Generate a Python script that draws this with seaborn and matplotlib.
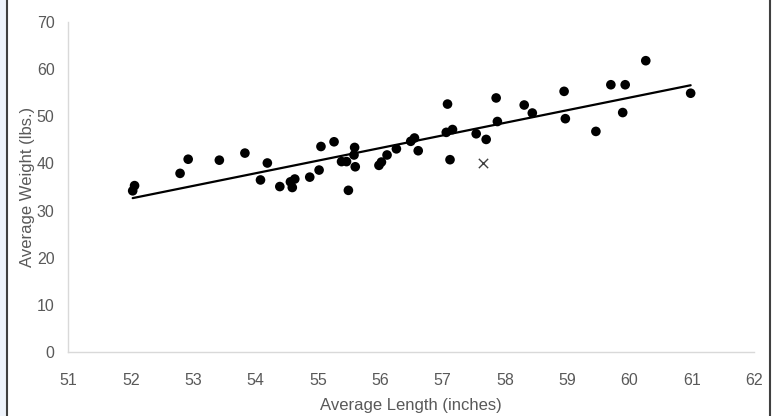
import seaborn as sns
from matplotlib import pyplot as plt
from matplotlib.patches import Rectangle
import pandas as pd

# average length (inches) and average weight (lbs.)
length = [52.06, 52.03, 52.79, 52.92, 53.42, 53.83, 54.08, 54.19, 54.39, 54.56,
          54.59, 54.63, 54.87, 55.02, 55.05, 55.26, 55.38, 55.46, 55.49, 55.58,
          55.59, 55.60, 55.98, 56.02, 56.11, 56.26, 56.49, 56.55, 56.61, 57.08,
          57.06, 57.16, 57.12, 57.54, 57.70, 57.86, 57.88, 58.31, 58.44, 58.95,
          58.97, 59.46, 59.70, 59.93, 59.89, 60.26, 60.98]
weight = [35.3, 34.2, 37.9, 40.9, 40.7, 42.2, 36.5, 40.1, 35.1, 36.1,
          34.9, 36.7, 37.1, 38.6, 43.6, 44.6, 40.4, 40.4, 34.3, 41.8,
          43.4, 39.3, 39.6, 40.3, 41.8, 43.1, 44.7, 45.4, 42.7, 52.6,
          46.6, 47.2, 40.8, 46.3, 45.1, 53.9, 48.9, 52.4, 50.7, 55.3,
          49.5, 46.8, 56.7, 56.7, 50.8, 61.8, 54.9]
outlier_length = [57.65]
outlier_weight = [40.1]

x_ticks = list(range(51, 63))
y_ticks = list(range(0, 71, 10))

sns.set_style('white')
plt.rcParams['font.family'] = ['Liberation Sans', 'DejaVu Sans']

df = pd.DataFrame({'length': length, 'weight': weight})

fig = plt.figure(figsize=(7.72, 4.16), dpi=100)
# light strip on the left and the dark frame around the chart
fig.patches.append(Rectangle((0, 0), 7 / 772, 1, transform=fig.transFigure,
                             facecolor='#eef3fb', edgecolor='none', zorder=0))
fig.patches.append(Rectangle((7 / 772, -0.01), 763 / 772, 1.02, transform=fig.transFigure,
                             facecolor='none', edgecolor='#404040', lw=1.5, zorder=5))

ax = fig.add_axes([0.0887, 0.1538, 0.8883, 0.7932])
sns.regplot(data=df, x='length', y='weight', ax=ax, scatter=False, ci=None,
            line_kws=dict(color='black', lw=1.6))
sns.scatterplot(data=df, x='length', y='weight', ax=ax, color='black', s=48,
                edgecolor='none', zorder=3)
ax.scatter(outlier_length, outlier_weight, marker='x', color='#404040', s=45, lw=1.0)

ax.set_xlim(51, 62)
ax.set_ylim(0, 70)
ax.set_xticks(x_ticks)
ax.set_yticks(y_ticks)
ax.set_xlabel('Average Length (inches)', fontsize=12, color='#595959', labelpad=7)
ax.set_ylabel('Average Weight (lbs.)', fontsize=12, color='#595959', labelpad=1.5)
ax.tick_params(length=0, labelsize=11.5, labelcolor='#595959')
ax.tick_params(axis='y', pad=10)
ax.tick_params(axis='x', pad=15)
for side in ['top', 'right']:
    ax.spines[side].set_visible(False)
for side in ['left', 'bottom']:
    ax.spines[side].set_color('#d9d9d9')
    ax.spines[side].set_linewidth(1.0)

fig.savefig('out.png', dpi=100)
